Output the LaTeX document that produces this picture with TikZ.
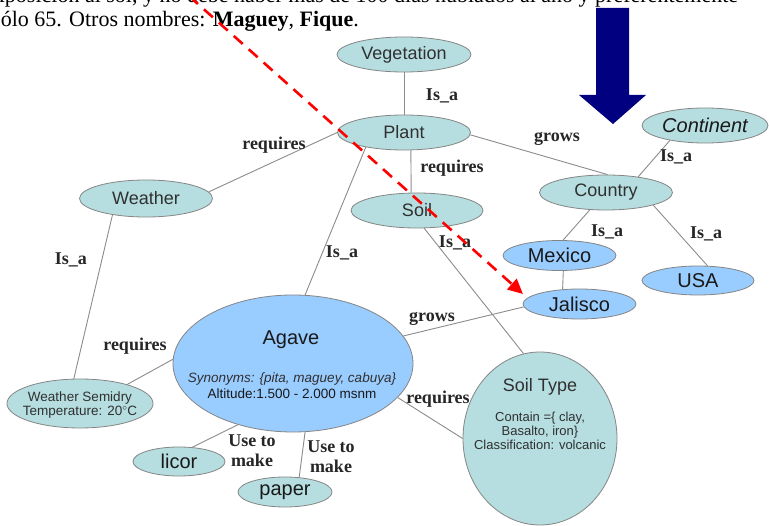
\documentclass[tikz,border=0pt]{standalone}
\usepackage{fontspec}
\setmainfont{Liberation Serif}
\newfontfamily\sansf{Liberation Sans}
\usetikzlibrary{shapes.geometric,arrows.meta}
\definecolor{tealfill}{HTML}{B6DEE0}
\definecolor{bluefill}{HTML}{99CCFF}
\definecolor{nodeborder}{HTML}{858585}
\definecolor{edgegray}{HTML}{8C8C8C}
\definecolor{navyblue}{HTML}{000080}
\definecolor{nodetext}{HTML}{303030}
\tikzset{
  tealnode/.style={ellipse, draw=nodeborder, fill=tealfill, line width=0.8pt, inner sep=0pt,
    text=nodetext, align=center, font=\sansf\fontsize{18}{20}\selectfont},
  bluenode/.style={tealnode, fill=bluefill, text=black!90, font=\sansf\fontsize{20}{22}\selectfont},
  innertext/.style={inner sep=0pt, anchor=base, align=center, text=nodetext},
  edge/.style={draw=edgegray, line width=0.9pt},
  lbl/.style={font=\bfseries\fontsize{18}{20}\selectfont, text=black!85, inner sep=0pt, align=center},
  toptext/.style={anchor=base west, inner sep=0pt, font=\fontsize{22}{25}\selectfont},
  redarrow/.style={draw=red, line width=2.6pt, dash pattern=on 12pt off 8pt,
    -{Triangle[length=15pt,width=14pt]}},
}
\begin{document}
\begin{tikzpicture}[x=1pt,y=-1pt]
\useasboundingbox (0,0) rectangle (769,526);
\fill[white] (0,0) rectangle (769,526);
% top text
\begin{scope}
\clip (0,0) rectangle (769,526);
\node[toptext] (topline1) at (-16,2.5) {exposición al sol, y no debe haber más de 100 días nublados al año y preferentemente};
\node[toptext] (topline2) at (-8,27) {sólo 65. Otros nombres: \textbf{Maguey}, \textbf{Fique}.};
\end{scope}
% nodes
\node[tealnode, minimum width=134pt, minimum height=35pt] (veg) at (404,54.5) {Vegetation};
\node[tealnode, minimum width=133pt, minimum height=35pt] (plant) at (404,132.5) {Plant};
\node[tealnode, minimum width=133pt, minimum height=37pt] (weather) at (146,198.5) {Weather};
\node[tealnode, minimum width=132pt, minimum height=35pt] (soil) at (417,210.5) {Soil};
\node[tealnode, minimum width=133pt, minimum height=35pt] (country) at (606,192.5) {Country};
\node[tealnode, minimum width=126pt, minimum height=35pt, font=\sansf\itshape\fontsize{20}{22}\selectfont, text=black!90] (continent) at (705,125.5) {Continent};
\node[bluenode, minimum width=113pt, minimum height=30pt] (mexico) at (559.5,255.5) {Mexico};
\node[bluenode, minimum width=113pt, minimum height=30pt] (jalisco) at (579.5,304) {Jalisco};
\node[bluenode, minimum width=112pt, minimum height=29pt] (usa) at (698,280.5) {USA};
\node[bluenode, minimum width=240pt, minimum height=137pt] (agave) at (293,363.5) {};
\node[tealnode, minimum width=146pt, minimum height=49pt] (semidry) at (80,403.5) {};
\node[tealnode, minimum width=154pt, minimum height=173pt] (soiltype) at (540,438.5) {};
\node[tealnode, minimum width=92pt, minimum height=29pt, font=\sansf\fontsize{20}{22}\selectfont, text=black!90] (licor) at (179,461.5) {licor};
\node[tealnode, minimum width=94pt, minimum height=30pt, font=\sansf\fontsize{20}{22}\selectfont, text=black!90] (paper) at (285,492) {paper};
% texts inside the larger ellipses
\node[innertext, font=\sansf\fontsize{20}{22}\selectfont, text=black!90] (agavetitle) at (291,345) {Agave};
\node[innertext, font=\sansf\itshape\fontsize{13.5}{15}\selectfont] (agavesyn) at (292,383) {Synonyms: \{pita, maguey, cabuya\}};
\node[innertext, font=\sansf\fontsize{13.5}{15}\selectfont, text=black!90] (agavealt) at (292,399) {Altitude:1.500 - 2.000 msnm};
\node[innertext, font=\sansf\fontsize{13.5}{14.5}\selectfont] (semidrytext) at (80,416) {Weather Semidry\\Temperature: 20$^{\circ}$C};
\node[innertext, font=\sansf\fontsize{18}{20}\selectfont] (soiltypetitle) at (540,392) {Soil Type};
\node[innertext, font=\sansf\fontsize{13}{14.2}\selectfont] (soiltypetext) at (540,450) {Contain =\{ clay,\\Basalto, iron\}\\Classification: volcanic};
% edges
\draw[edge] (veg.south) -- (plant.north);
\draw[edge] (plant.180) -- (weather.6);
\draw[edge] (plant.-69) -- (soil.108);
\draw[edge] (plant.-2) -- (country.85);
\draw[edge] (plant.201) -- (agave.80);
\draw[edge] (soil.-68) -- (soiltype.101);
\draw[edge] (country.26) -- (continent.203);
\draw[edge] (country.227) -- (mexico.77);
\draw[edge] (country.-15) -- (usa.57);
\draw[edge] (mexico.-76) -- (jalisco.139);
\draw[edge] (jalisco.183) -- (agave.14);
\draw[edge] (weather.-154) -- (semidry.104);
\draw[edge] (agave.178) -- (semidry.22);
\draw[edge] (agave.-18) -- (soiltype.180);
\draw[edge] (agave.228) -- (licor.47);
\draw[edge] (agave.-80) -- (paper.46);
% edge labels
\node[lbl] (l1) at (442,96) {Is\_a};
\node[lbl] (l2) at (274,145) {requires};
\node[lbl] (l3) at (452,168) {requires};
\node[lbl] (l4) at (557,139) {grows};
\node[lbl] (l5) at (676,157) {Is\_a};
\node[lbl] (l6) at (607,232) {Is\_a};
\node[lbl] (l7) at (706,234) {Is\_a};
\node[lbl] (l8) at (342,253) {Is\_a};
\node[lbl] (l9) at (455,243) {Is\_a};
\node[lbl] (l10) at (71,260) {Is\_a};
\node[lbl] (l11) at (135,346) {requires};
\node[lbl] (l12) at (432,319) {grows};
\node[lbl] (l13) at (438,399) {requires};
\node[lbl] (l14) at (252,451) {Use to\\make};
\node[lbl] (l15) at (331,457) {Use to\\make};
% red dashed arrow
\coordinate (redstart) at (189,-4);
\coordinate (redend) at (523,294);
\draw[redarrow] (redstart) -- (redend);
% navy block arrow
\fill[navyblue] (596,8) -- (629,8) -- (629,95) -- (646,95) -- (613,124) -- (579,95) -- (596,95) -- cycle;
\end{tikzpicture}
\end{document}
